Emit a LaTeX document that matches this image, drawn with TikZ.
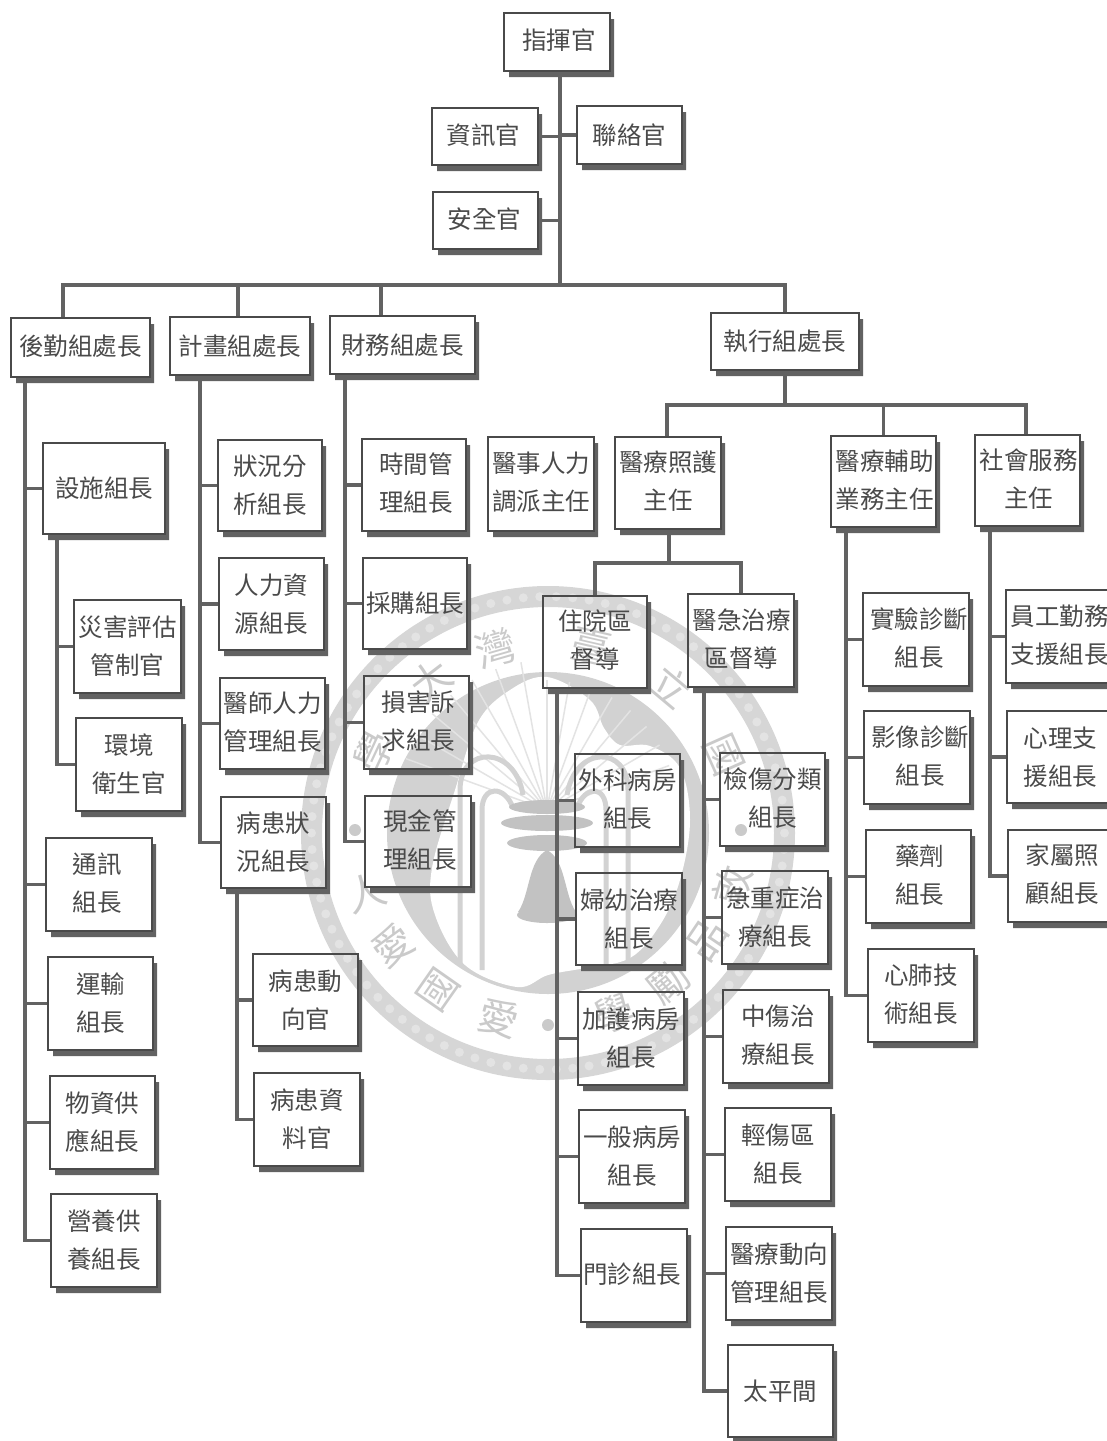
\documentclass[tikz,border=0pt]{standalone}
\usepackage{fontspec}
\setmainfont{Noto Sans CJK TC}
\definecolor{ink}{HTML}{4A4A4A}
\definecolor{shade}{HTML}{626262}
\definecolor{wmdark}{HTML}{D2D2D2}
\definecolor{wmring}{HTML}{D6D6D6}
\definecolor{wmlight}{HTML}{E3E3E3}
\definecolor{wmtext}{HTML}{CACACA}
\definecolor{wmdeep}{HTML}{C2C2C2}
\tikzset{
  boxst/.style={draw=ink,line width=2pt,inner sep=0pt,align=center,text=ink,
    font=\fontsize{24.5}{38}\selectfont},
  shadest/.style={fill=shade},
  conn/.style={draw=shade,line width=3.6pt},
  wmch/.style={text=wmtext,inner sep=0pt,font=\fontsize{40}{40}\selectfont},
  pipe/.style={draw=wmdark,line width=5pt},
  spray/.style={draw=wmlight,line width=1.5pt}
}
\newcommand\bx[6]{%
  \fill[shadest] ({#2+5},{#5}) -- ({#2+5},{#5+6}) -- ({#4+4},{#5+6}) -- ({#4+4},{#3+6}) -- ({#4},{#3+6}) -- ({#4},{#5}) -- cycle;
  \node[boxst,minimum width={(#4-#2)*1pt},minimum height={(#5-#3)*1pt}] (#1) at ({(#2+#4)/2},{(#3+#5)/2}) {#6};
}
% \mv{dx}{dy up}{lines}: moves the text inside its box
\newcommand\mv[3]{\hspace*{#1}\raisebox{#2}{\begin{tabular}{@{}c@{}}#3\end{tabular}}}
\newcommand\kid[3]{\draw[conn] ([xshift=#2pt]#1.south west) |- (#3.west);}
\newcommand\wm[3]{\node[wmch,rotate=#3] (#1) at ({548+192*cos(#2)},{833-192*sin(#2)}) {#1};}
\begin{document}
\begin{tikzpicture}[x=1pt,y=-1pt]
\useasboundingbox (0,0) rectangle (1107,1441);
\clip (0,0) rectangle (1107,1441);
% watermark
\fill[wmring,even odd rule] (548,833) circle (247) (548,833) circle (226);
\foreach \a in {0,4,...,356} {\fill[wmlight] ({548+236.5*cos(\a)},{833-236.5*sin(\a)}) circle (4.5);}
\fill[wmdark] (548,833) circle (161);
\fill[white] plot[smooth cycle,tension=0.6] coordinates {(547,677) (590,700) (604,728) (620,745) (650,746) (680,768) (690,820) (680,880) (660,925) (630,958) (585,968) (548,975) (517,987) (465,965) (435,915) (432,868) (455,790) (478,722) (510,690)};
\foreach \a in {100,110,...,160} {\draw[spray] (547,810) -- ++({150*cos(\a)},{-150*sin(\a)});}
\foreach \a in {20,30,...,90} {\draw[spray] (547,810) -- ++({130*cos(\a)},{-130*sin(\a)});}
\draw[pipe] (460,963) -- (460,790) .. controls (460,745) and (515,745) .. (523,795);
\draw[pipe] (482,970) -- (482,810) .. controls (482,785) and (505,785) .. (513,808);
\draw[pipe] (628,963) -- (628,790) .. controls (628,745) and (575,745) .. (567,795);
\draw[pipe] (606,970) -- (606,810) .. controls (606,785) and (585,785) .. (577,808);
\fill[wmdeep] (547,807) ellipse (38 and 7);
\fill[wmdeep] (547,823) ellipse (46 and 8);
\fill[wmdeep] (547,843) ellipse (40 and 8);
\fill[wmdeep] (518,912) .. controls (530,895) and (528,860) .. (547,850) .. controls (566,860) and (564,895) .. (576,912) -- cycle;
\fill[wmdeep] (547,915) ellipse (30 and 8);
\wm{學}{155}{65}
\wm{大}{127.5}{37.5}
\wm{灣}{106}{16}
\wm{臺}{77}{-13}
\wm{立}{50}{-40}
\wm{國}{24}{-66}
\wm{敦}{344}{74}
\wm{品}{326}{56}
\wm{勵}{309}{39}
\wm{愛}{255}{-15}
\node[wmch,rotate=55] (wmguo) at ({548+192*cos(235)},{833-192*sin(235)}) {國};
\node[wmch,rotate=36] (wmaib) at ({548+192*cos(216)},{833-192*sin(216)}) {愛};
\node[wmch,rotate=18] (wmren) at ({548+192*cos(198)},{833-192*sin(198)}) {人};
\node[wmch,rotate=20] (wmxue) at ({548+192*cos(290)},{833-192*sin(290)}) {學};
\fill[wmtext] (548,1025) circle (6) (741,830) circle (6) (355,830) circle (6);
% boxes
\bx{cmd}{504}{13}{610}{71}{\mv{4pt}{4pt}{指揮官}}
\bx{inf}{432}{108}{538}{165}{\mv{-3pt}{2pt}{資訊官}}
\bx{lia}{577}{106}{682}{164}{聯絡官}
\bx{saf}{433}{192}{538}{249}{\mv{-2pt}{-3pt}{安全官}}
\bx{log}{11}{318}{150}{377}{\mv{0pt}{2pt}{後勤組處長}}
\bx{pln}{170}{317}{310}{375}{計畫組處長}
\bx{fin}{330}{316}{475}{374}{財務組處長}
\bx{exe}{711}{313}{859}{370}{執行組處長}
\bx{fac}{43}{443}{165}{534}{設施組長}
\bx{dis}{74}{600}{181}{693}{災害評估\\管制官}
\bx{env}{76}{718}{182}{811}{環境\\衛生官}
\bx{com}{46}{838}{152}{931}{\mv{-4pt}{-2pt}{通訊\\組長}}
\bx{tra}{48}{957}{153}{1050}{運輸\\組長}
\bx{sup}{50}{1076}{155}{1169}{物資供\\應組長}
\bx{nut}{51}{1194}{157}{1287}{營養供\\養組長}
\bx{sit}{218}{440}{322}{531}{狀況分\\析組長}
\bx{hum}{219}{558}{324}{650}{人力資\\源組長}
\bx{doc}{220}{678}{325}{769}{\mv{0pt}{-6pt}{醫師人力\\管理組長}}
\bx{pat}{221}{797}{326}{888}{病患狀\\況組長}
\bx{pmo}{253}{954}{358}{1046}{病患動\\向官}
\bx{pda}{254}{1073}{360}{1166}{病患資\\料官}
\bx{tim}{362}{439}{466}{531}{\mv{4pt}{0pt}{時間管\\理組長}}
\bx{pur}{363}{558}{467}{649}{採購組長}
\bx{cla}{364}{676}{469}{769}{\mv{4pt}{-6pt}{損害訴\\求組長}}
\bx{cas}{365}{796}{471}{887}{\mv{4pt}{-2pt}{現金管\\理組長}}
\bx{dsp}{488}{437}{594}{531}{\mv{0pt}{-2pt}{醫事人力\\調派主任}}
\bx{car}{615}{437}{721}{529}{\mv{0pt}{4pt}{醫療照護\\主任}}
\bx{aux}{831}{436}{936}{527}{\mv{2pt}{6pt}{醫療輔助\\業務主任}}
\bx{soc}{975}{435}{1080}{526}{\mv{2pt}{6pt}{社會服務\\主任}}
\bx{inp}{543}{596}{647}{688}{\mv{0pt}{-4pt}{住院區\\督導}}
\bx{emg}{688}{594}{794}{687}{\mv{1pt}{-6pt}{醫急治療\\區督導}}
\bx{lab}{863}{593}{969}{686}{\mv{6pt}{-6pt}{實驗診斷\\組長}}
\bx{img}{864}{711}{970}{804}{\mv{6pt}{0pt}{影像診斷\\組長}}
\bx{pha}{866}{830}{971}{923}{\mv{2pt}{-2pt}{藥劑\\組長}}
\bx{cpr}{868}{949}{974}{1042}{\mv{0pt}{-4pt}{心肺技\\術組長}}
\bx{stf}{1006}{590}{1113}{683}{\mv{0pt}{-8pt}{員工勤務\\支援組長}}
\bx{psy}{1007}{711}{1114}{803}{心理支\\援組長}
\bx{fam}{1008}{830}{1115}{922}{\mv{2pt}{-2pt}{家屬照\\顧組長}}
\bx{sur}{575}{754}{680}{847}{\mv{0pt}{-4pt}{外科病房\\組長}}
\bx{obg}{576}{873}{682}{965}{婦幼治療\\組長}
\bx{icu}{578}{992}{684}{1085}{加護病房\\組長}
\bx{gen}{579}{1110}{685}{1203}{一般病房\\組長}
\bx{opd}{581}{1229}{687}{1322}{\mv{-4pt}{-4pt}{門診組長}}
\bx{tri}{720}{753}{825}{846}{\mv{0pt}{-6pt}{檢傷分類\\組長}}
\bx{cri}{722}{871}{828}{964}{急重症治\\療組長}
\bx{mod}{723}{990}{829}{1083}{\mv{4pt}{0pt}{中傷治\\療組長}}
\bx{min}{725}{1108}{831}{1201}{輕傷區\\組長}
\bx{mtr}{726}{1227}{832}{1320}{醫療動向\\管理組長}
\bx{mor}{728}{1345}{833}{1437}{太平間}
% connectors
\coordinate (bus) at (560,285);
\coordinate (ebus) at (785,405);
\coordinate (cbus) at (669,563);
\draw[conn] ([xshift=57pt]cmd.south west) -- (bus);
\draw[conn] (inf.east) -- (inf.east -| bus);
\draw[conn] (lia.west) -- (lia.west -| bus);
\draw[conn] (saf.east) -- (saf.east -| bus);
\draw[conn] (bus) -| ([xshift=53pt]log.north west);
\draw[conn] (bus) -| ([xshift=69pt]pln.north west);
\draw[conn] (bus) -| ([xshift=52pt]fin.north west);
\draw[conn] (bus) -| (exe.north);
\draw[conn] (exe.south) -- (ebus);
\draw[conn] (ebus) -| ([xshift=53pt]car.north west);
\draw[conn] (ebus) -| (aux.north);
\draw[conn] (ebus) -| ([xshift=52pt]soc.north west);
\draw[conn] ([xshift=55pt]car.south west) -- (cbus);
\draw[conn] (cbus) -| (inp.north);
\draw[conn] (cbus) -| ([xshift=54pt]emg.north west);
\foreach \c in {fac,com,tra,sup,nut} {\kid{log}{15}{\c}}
\foreach \c in {dis,env} {\kid{fac}{15}{\c}}
\foreach \c in {sit,hum,doc,pat} {\kid{pln}{31}{\c}}
\foreach \c in {pmo,pda} {\kid{pat}{17}{\c}}
\foreach \c in {tim,pur,cla,cas} {\kid{fin}{16}{\c}}
\foreach \c in {lab,img,pha,cpr} {\kid{aux}{16}{\c}}
\foreach \c in {stf,psy,fam} {\kid{soc}{16}{\c}}
\foreach \c in {sur,obg,icu,gen,opd} {\kid{inp}{15}{\c}}
\foreach \c in {tri,cri,mod,min,mtr,mor} {\kid{emg}{17}{\c}}
\end{tikzpicture}
\end{document}
